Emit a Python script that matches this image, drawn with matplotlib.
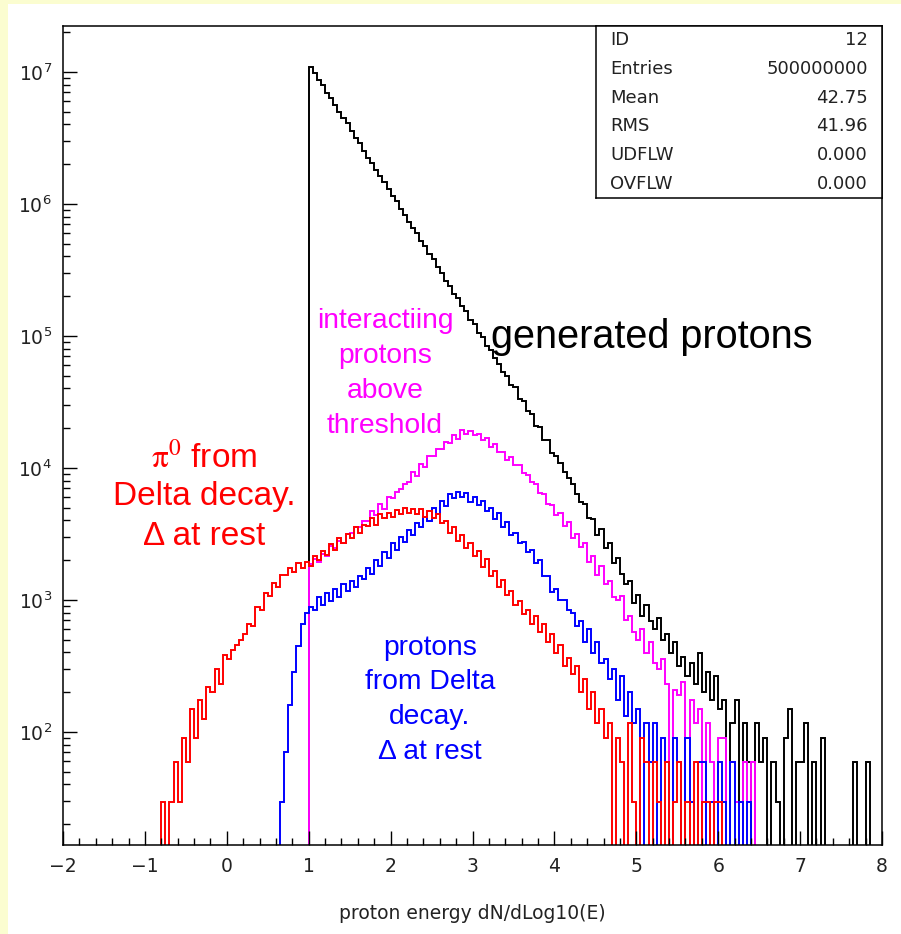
import matplotlib.pyplot as plt
import numpy as np
from matplotlib.patches import Rectangle
from matplotlib.ticker import LogLocator, MultipleLocator, NullFormatter

W, H = 901, 934
BIN_WIDTH = 0.05

# log10 of the bin contents; empty bins are stored as 0
generated_start = 1.00
generated_log = [
    7.04, 6.99, 6.94, 6.90, 6.84, 6.80, 6.75, 6.70, 6.65, 6.61,
    6.55, 6.50, 6.46, 6.40, 6.35, 6.31, 6.26, 6.21, 6.17, 6.11,
    6.06, 6.02, 5.96, 5.92, 5.86, 5.82, 5.78, 5.72, 5.68, 5.62,
    5.58, 5.52, 5.48, 5.42, 5.38, 5.32, 5.29, 5.23, 5.19, 5.12,
    5.09, 5.02, 4.99, 4.92, 4.89, 4.83, 4.79, 4.73, 4.70, 4.63,
    4.61, 4.52, 4.51, 4.43, 4.41, 4.32, 4.31, 4.21, 4.21, 4.11,
    4.09, 4.04, 3.97, 3.92, 3.88, 3.80, 3.74, 3.73, 3.62, 3.61,
    3.49, 3.54, 3.39, 3.43, 3.28, 3.32, 3.20, 3.12, 3.14, 2.98,
    3.04, 2.88, 2.96, 2.84, 2.78, 2.86, 2.70, 2.74, 2.60, 2.68,
    2.50, 2.57, 2.42, 2.52, 2.36, 2.60, 2.30, 2.45, 2.24, 2.42,
    2.17, 2.24, 0, 2.07, 2.24, 0, 2.07, 1.77, 0, 2.07,
    1.77, 1.95, 0, 1.77, 1.47, 0, 1.95, 2.17, 0, 1.77,
    1.77, 2.07, 0, 1.77, 0, 1.95, 0, 0, 0, 0,
    0, 0, 0, 1.77, 0, 0, 1.77, 0, 0, 0,
]

interacting_start = 1.00
interacting_log = [
    3.27, 3.31, 3.29, 3.35, 3.33, 3.41, 3.39, 3.45, 3.43, 3.50,
    3.51, 3.55, 3.55, 3.60, 3.60, 3.67, 3.64, 3.73, 3.69, 3.78,
    3.77, 3.82, 3.84, 3.88, 3.89, 3.97, 3.94, 4.03, 4.01, 4.09,
    4.09, 4.14, 4.14, 4.20, 4.19, 4.25, 4.22, 4.29, 4.26, 4.28,
    4.25, 4.26, 4.21, 4.23, 4.16, 4.18, 4.12, 4.12, 4.06, 4.08,
    4.02, 4.02, 3.96, 3.95, 3.89, 3.88, 3.81, 3.80, 3.73, 3.72,
    3.64, 3.66, 3.56, 3.59, 3.47, 3.50, 3.40, 3.43, 3.29, 3.33,
    3.19, 3.26, 3.12, 3.14, 3.02, 3.00, 3.03, 2.85, 2.88, 2.76,
    2.70, 2.78, 2.60, 2.68, 2.52, 2.48, 2.55, 2.36, 0, 2.32,
    2.28, 2.38, 0, 2.24, 2.07, 2.17, 0, 2.07, 1.77, 0,
    1.95, 1.95, 0, 1.77, 1.47, 0, 1.77, 1.47, 1.77, 0,
]

delta_proton_start = 0.65
delta_proton_log = [
    1.47, 1.85, 2.20, 2.45, 2.65, 2.82, 2.90,
    2.95, 2.92, 3.02, 2.96, 3.05, 2.99, 3.08, 3.02, 3.12, 3.07,
    3.14, 3.10, 3.18, 3.16, 3.24, 3.20, 3.30, 3.26, 3.36, 3.32,
    3.43, 3.38, 3.48, 3.44, 3.53, 3.49, 3.58, 3.55, 3.63, 3.60,
    3.70, 3.65, 3.75, 3.71, 3.80, 3.77, 3.82, 3.78, 3.81, 3.74,
    3.78, 3.72, 3.75, 3.67, 3.70, 3.61, 3.66, 3.55, 3.59, 3.49,
    3.51, 3.43, 3.44, 3.36, 3.38, 3.28, 3.30, 3.18, 3.18, 3.06,
    3.08, 3.00, 3.00, 2.92, 2.90, 2.80, 2.84, 2.68, 2.78, 2.60,
    2.68, 2.52, 2.55, 2.40, 2.48, 2.24, 2.42, 2.12, 2.30, 2.07,
    2.17, 0, 2.07, 1.77, 2.07, 0, 1.95, 1.77, 0, 1.95,
    1.77, 0, 1.95, 1.47, 0, 1.77, 1.77, 0, 1.47, 0,
    1.77, 1.47, 0, 1.77, 0, 1.47, 0, 1.47, 0,
]

pi0_start = -0.80
pi0_log = [
    1.47, 0, 1.47, 1.77, 1.47, 1.95, 1.77, 2.17, 1.95, 2.24,
    2.10, 2.34, 2.30, 2.48, 2.36, 2.58, 2.55, 2.62, 2.66, 2.70,
    2.74, 2.82, 2.80, 2.95, 2.92, 3.05, 3.03, 3.13, 3.10, 3.19,
    3.19, 3.24, 3.21, 3.28, 3.24, 3.29, 3.26, 3.33, 3.30, 3.37,
    3.34, 3.42, 3.38, 3.47, 3.43, 3.50, 3.47, 3.55, 3.51, 3.57,
    3.56, 3.62, 3.57, 3.65, 3.62, 3.66, 3.63, 3.68, 3.65, 3.70,
    3.66, 3.69, 3.65, 3.69, 3.63, 3.67, 3.62, 3.65, 3.58, 3.60,
    3.51, 3.55, 3.45, 3.49, 3.39, 3.43, 3.33, 3.37, 3.25, 3.31,
    3.18, 3.22, 3.10, 3.15, 3.04, 3.07, 2.96, 2.99, 2.89, 2.92,
    2.82, 2.88, 2.76, 2.82, 2.68, 2.74, 2.60, 2.66, 2.50, 2.56,
    2.44, 2.50, 2.30, 2.40, 2.17, 2.30, 2.07, 2.17, 1.95, 2.07,
    0, 1.95, 1.77, 0, 2.07, 1.47, 0, 1.95, 1.77, 0,
    1.77, 1.47, 0, 1.77, 0, 1.47, 1.77, 0, 1.47, 0,
    1.77, 0, 1.47, 1.47, 0, 1.47, 1.47, 0,
]

stats_names = ["ID", "Entries", "Mean", "RMS", "UDFLW", "OVFLW"]
stats_values = ["12", "500000000", "42.75", "41.96", "0.000", "0.000"]

generated_text = ["generated protons"]
interacting_text = ["interactiing", "protons", "above", "threshold"]
pi0_text = [r"$\mathrm{\pi}^{0}$ from", "Delta decay.", "\u0394 at rest"]
delta_proton_text = ["protons", "from Delta", "decay.", "\u0394 at rest"]


def draw_hist(ax, start, logs, color):
    counts = 10.0 ** np.asarray(logs)
    edges = start + BIN_WIDTH * np.arange(len(counts) + 1)
    ax.stairs(counts, edges, baseline=1.0, color=color, lw=1.4)


def put_lines(fig, lines, x_px, baselines, **kw):
    for s, y in zip(lines, baselines):
        fig.text(x_px / W, 1 - y / H, s, ha="center", va="baseline", **kw)


fig = plt.figure(figsize=(W / 100, H / 100), dpi=100)
fig.patch.set_facecolor("#fbfdd0")
fig.add_artist(Rectangle((8 / W, 0), 1, 1 - 4 / H, transform=fig.transFigure,
                         facecolor="white", edgecolor="none", zorder=-5))

ax = fig.add_axes([63 / W, 1 - 845 / H, (882 - 63) / W, (845 - 26) / H])
ax.set_yscale("log")

draw_hist(ax, generated_start, generated_log, "black")
draw_hist(ax, interacting_start, interacting_log, "#ff00ff")
draw_hist(ax, delta_proton_start, delta_proton_log, "#0000ff")
draw_hist(ax, pi0_start, pi0_log, "#ff0000")

ax.set_xlim(-2, 8)
ax.set_ylim(13.9, 2.23e7)
ax.xaxis.set_major_locator(MultipleLocator(1))
ax.xaxis.set_minor_locator(MultipleLocator(0.2))
ax.yaxis.set_major_locator(LogLocator(base=10, numticks=20))
ax.yaxis.set_minor_locator(LogLocator(base=10, subs=np.arange(2, 10), numticks=20))
ax.yaxis.set_minor_formatter(NullFormatter())
ax.tick_params(which="both", direction="in", top=False, right=False,
               labelsize=13.5, labelcolor="#222222", width=1.0)
ax.tick_params(which="major", length=10)
ax.tick_params(which="minor", length=5)
ax.tick_params(axis="x", pad=9)
ax.tick_params(axis="y", pad=8)
for sp in ax.spines.values():
    sp.set_linewidth(1.1)
ax.set_xlabel("proton energy dN/dLog10(E)", fontsize=13.5, color="#222222", labelpad=20)

# statistics box
box = fig.add_axes([596 / W, 1 - 198 / H, (882 - 596) / W, (198 - 26) / H])
box.set_xticks([])
box.set_yticks([])
for sp in box.spines.values():
    sp.set_linewidth(1.1)
for i, (name, val) in enumerate(zip(stats_names, stats_values)):
    y = 1 - (i + 0.5) / len(stats_names)
    box.text(0.05, y, name, ha="left", va="center", fontsize=13, color="#222222")
    box.text(0.95, y, val, ha="right", va="center", fontsize=13, color="#222222")

sans = "Liberation Sans"
put_lines(fig, generated_text, 652, [348], color="black", fontsize=28.5, family=sans)
put_lines(fig, interacting_text, 385, [328, 363, 398, 433], color="#ff00ff",
          fontsize=20.3, family=sans)
put_lines(fig, pi0_text, 204, [467, 505, 545], color="#ff0000", fontsize=24,
          family=sans, math_fontfamily="stix")
put_lines(fig, delta_proton_text, 430, [655, 689, 724, 759], color="#0000ff",
          fontsize=20.3, family=sans)

fig.savefig("out.png", dpi=100)
